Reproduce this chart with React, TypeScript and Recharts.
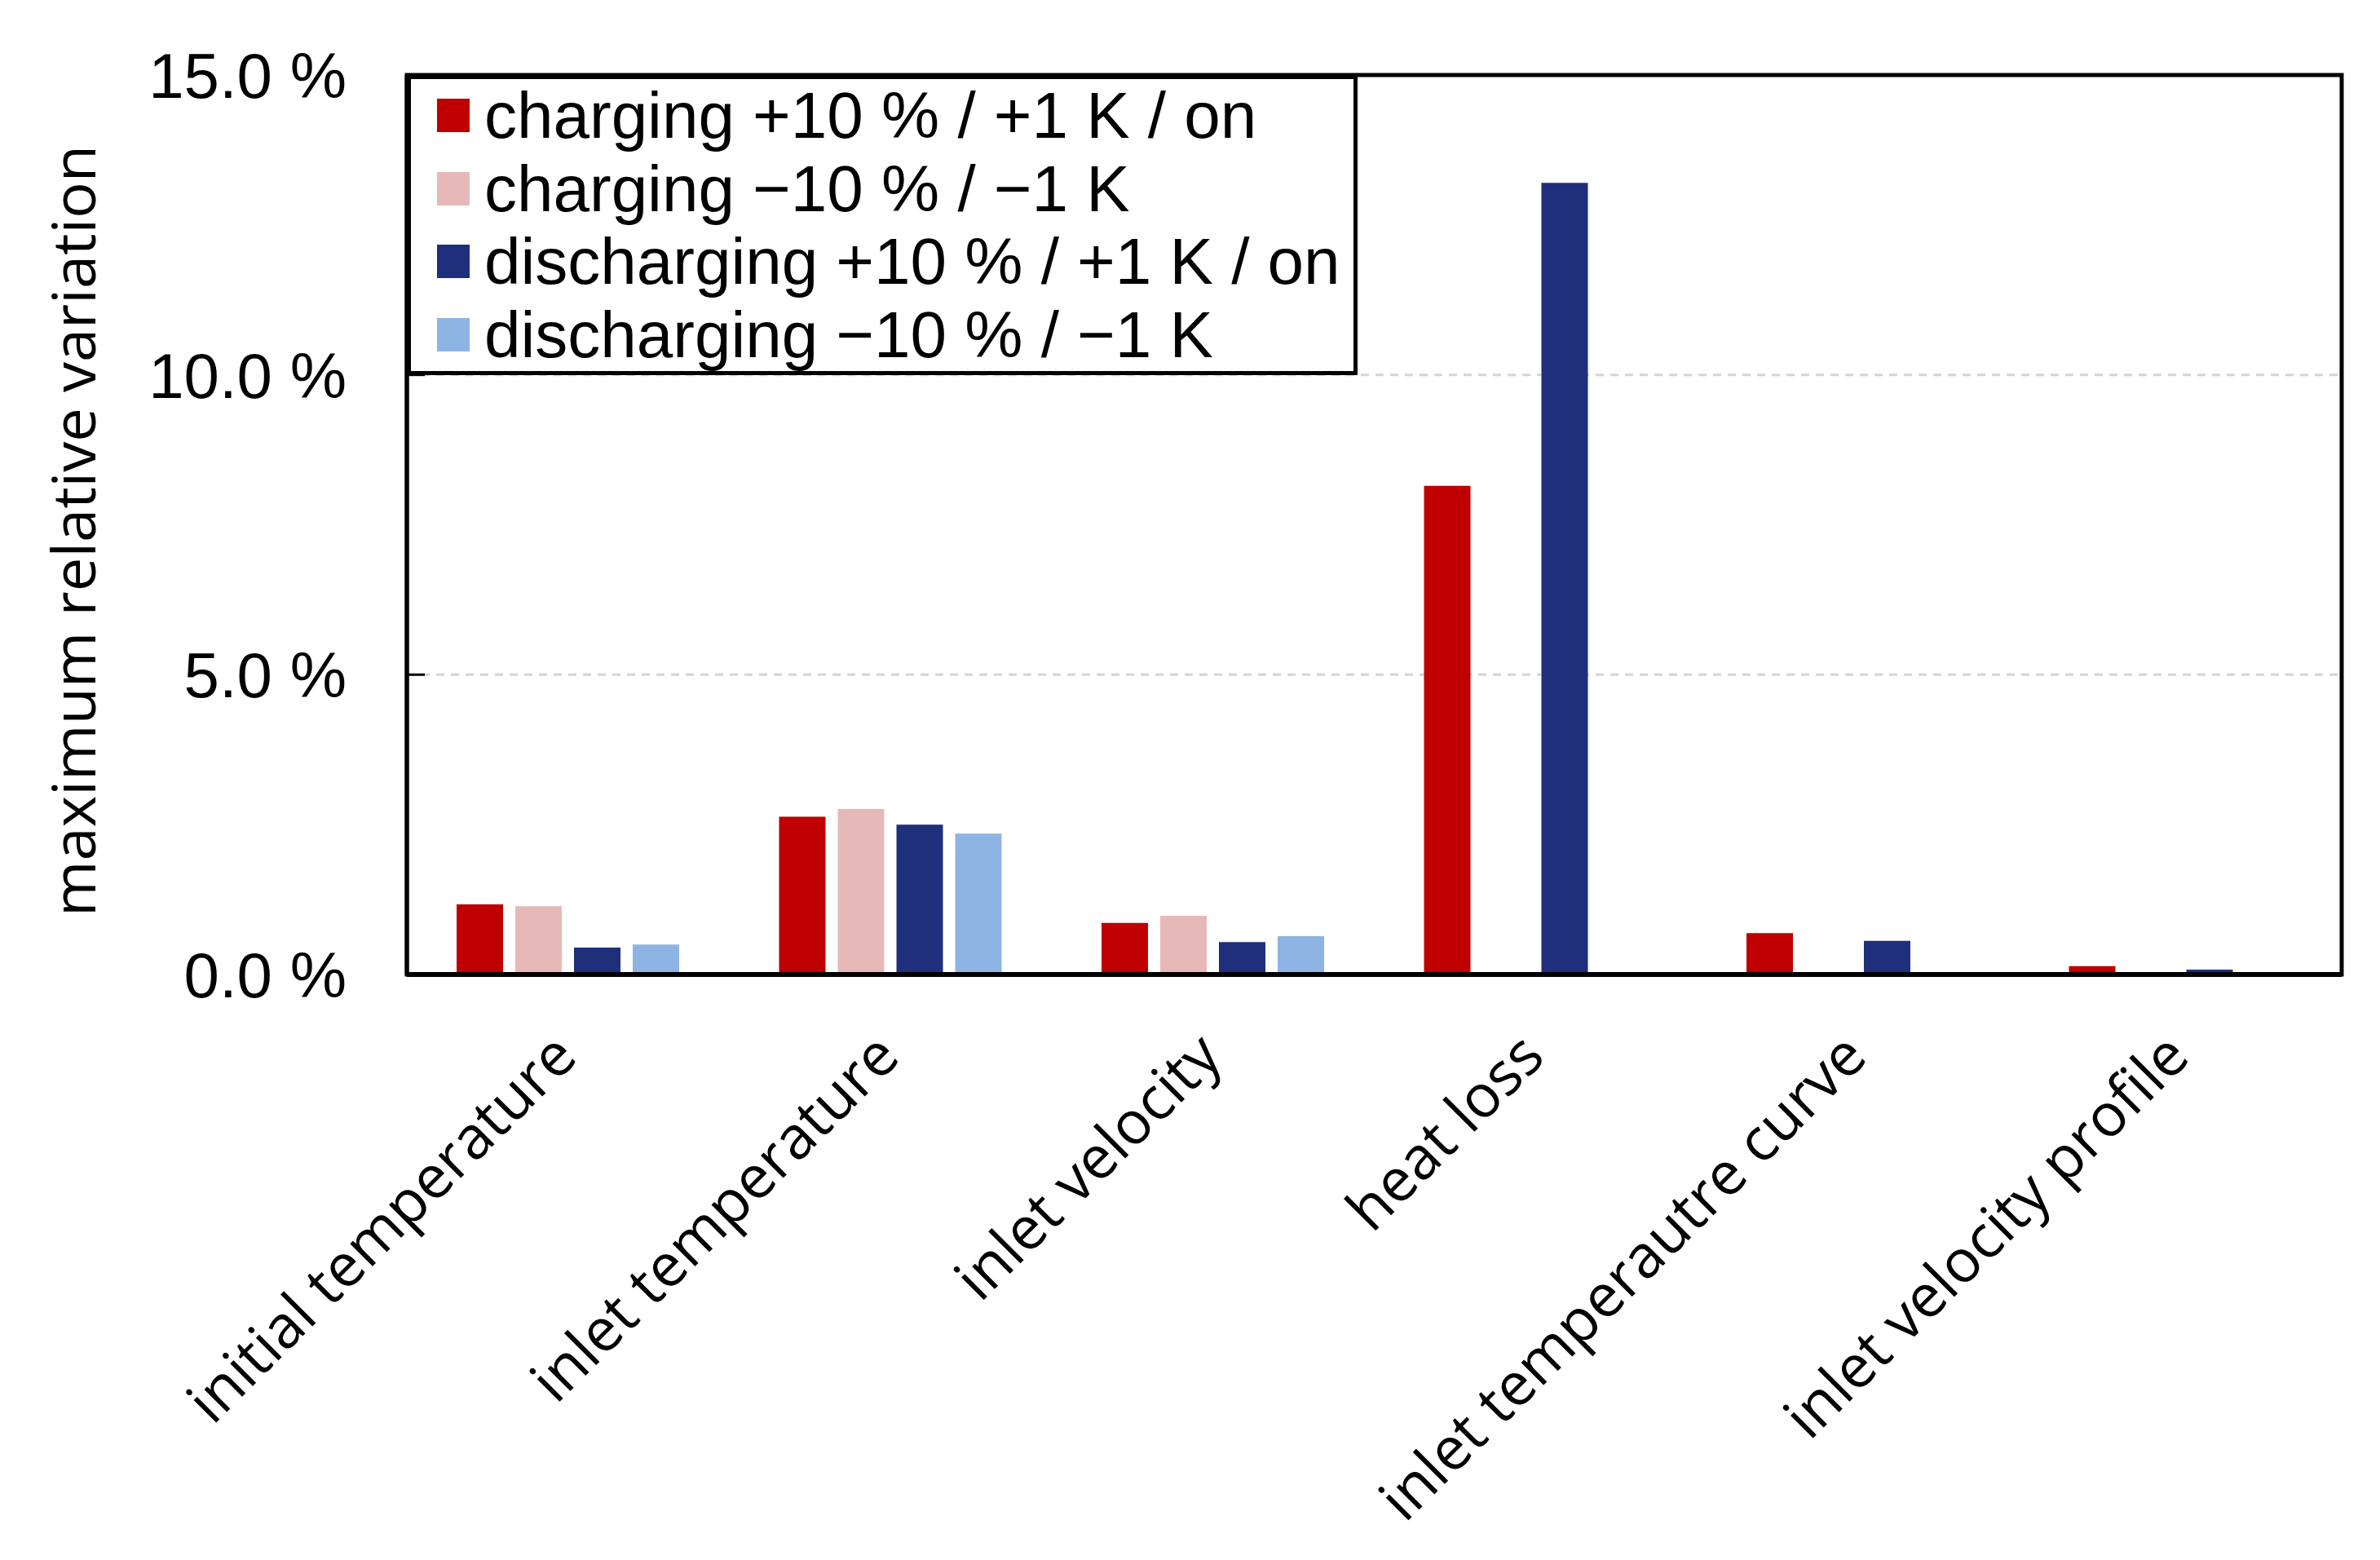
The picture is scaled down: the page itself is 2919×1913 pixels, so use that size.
import React from 'react';
import {
  BarChart,
  Bar,
  XAxis,
  YAxis,
  CartesianGrid,
  Legend,
  ReferenceArea,
} from 'recharts';

const categories = [
  'initial temperature',
  'inlet temperature',
  'inlet velocity',
  'heat loss',
  'inlet temperautre curve',
  'inlet velocity profile',
];

const chargingPlus = [1.17, 2.63, 0.86, 8.15, 0.69, 0.14];
const chargingMinus = [1.14, 2.76, 0.98, null, null, null];
const dischargingPlus = [0.45, 2.5, 0.54, 13.2, 0.56, 0.08];
const dischargingMinus = [0.5, 2.35, 0.64, null, null, null];

const yTicks = [0, 5, 10, 15];

const series = [
  { key: 'chPlus', label: 'charging +10 % / +1 K / on', color: '#C00000' },
  { key: 'chMinus', label: 'charging \u221210 % / \u22121 K', color: '#E6B9B8' },
  { key: 'disPlus', label: 'discharging +10 % / +1 K / on', color: '#1F2F7B' },
  { key: 'disMinus', label: 'discharging \u221210 % / \u22121 K', color: '#8DB4E2' },
];

const data = categories.map((name, i) => ({
  name,
  chPlus: chargingPlus[i],
  chMinus: chargingMinus[i],
  disPlus: dischargingPlus[i],
  disMinus: dischargingMinus[i],
}));

const ARIAL = '"Liberation Sans", Arial, sans-serif';
const OPEN = '"Open Sans", sans-serif';

const YTick = ({ x, y, payload }: any) => (
  <g>
    <line x1={x} x2={x + 22} y1={y} y2={y} stroke="#000" strokeWidth={3} />
    <text
      x={x - 74}
      y={y}
      dy="0.36em"
      textAnchor="end"
      fontSize={78}
      fontFamily={ARIAL}
      fill="#000"
    >
      {`${Number(payload.value).toFixed(1)} %`}
    </text>
  </g>
);

const XTick = ({ x, y, payload }: any) => {
  const ax = x + 14;
  const ay = y + 104;
  return (
    <text
      x={ax}
      y={ay}
      transform={`rotate(-45, ${ax}, ${ay})`}
      textAnchor="end"
      fontSize={73}
      fontFamily={OPEN}
      fill="#000"
    >
      {payload.value}
    </text>
  );
};

const LegendBox = () => (
  <div
    style={{
      boxSizing: 'border-box',
      width: 1166,
      height: 368,
      border: '5px solid #000',
      background: '#fff',
      fontFamily: ARIAL,
      fontSize: 80,
      color: '#000',
    }}
  >
    {series.map((s) => (
      <div
        key={s.key}
        style={{ height: 89.5, display: 'flex', alignItems: 'center', whiteSpace: 'nowrap' }}
      >
        <span
          style={{
            display: 'inline-block',
            width: 40,
            height: 41,
            background: s.color,
            marginLeft: 32,
            marginRight: 18,
          }}
        />
        <span style={{ lineHeight: '89px' }}>{s.label}</span>
      </div>
    ))}
  </div>
);

const YLabel = () => (
  <text
    x={117}
    y={651}
    transform="rotate(-90, 117, 651)"
    textAnchor="middle"
    fontSize={74}
    fontFamily={OPEN}
    fill="#000"
  >
    maximum relative variation
  </text>
);

export default function App() {
  return (
    <div style={{ position: 'absolute', left: 0, top: 0, width: 2919, height: 1913, background: '#fff' }}>
      <BarChart
        width={2919}
        height={1913}
        data={data}
        margin={{ top: 92, right: 47, left: 119, bottom: 118 }}
        barSize={57}
        barGap={15}
      >
        <CartesianGrid
          vertical={false}
          stroke="#d4d4d4"
          strokeWidth={3}
          strokeDasharray="10 8"
        />
        <XAxis
          dataKey="name"
          interval={0}
          height={600}
          tickSize={0}
          tickMargin={0}
          tickLine={false}
          axisLine={{ stroke: '#000', strokeWidth: 6 }}
          tick={<XTick />}
        />
        <YAxis
          width={380}
          domain={[0, 15]}
          ticks={yTicks}
          tickSize={0}
          tickMargin={0}
          tickLine={false}
          axisLine={{ stroke: '#000', strokeWidth: 5 }}
          tick={<YTick />}
          label={{ content: () => <YLabel /> }}
        />
        {series.map((s) => (
          <Bar
            key={s.key}
            dataKey={s.key}
            name={s.label}
            fill={s.color}
            isAnimationActive={false}
          />
        ))}
        <ReferenceArea
          y1={0}
          y2={15}
          fill="none"
          fillOpacity={0}
          stroke="#000"
          strokeWidth={5}
          ifOverflow="visible"
        />
        <Legend
          layout="vertical"
          align="center"
          verticalAlign="middle"
          content={() => <LegendBox />}
          wrapperStyle={{ left: 499, top: 92, width: 1166, height: 368 }}
        />
      </BarChart>
    </div>
  );
}
